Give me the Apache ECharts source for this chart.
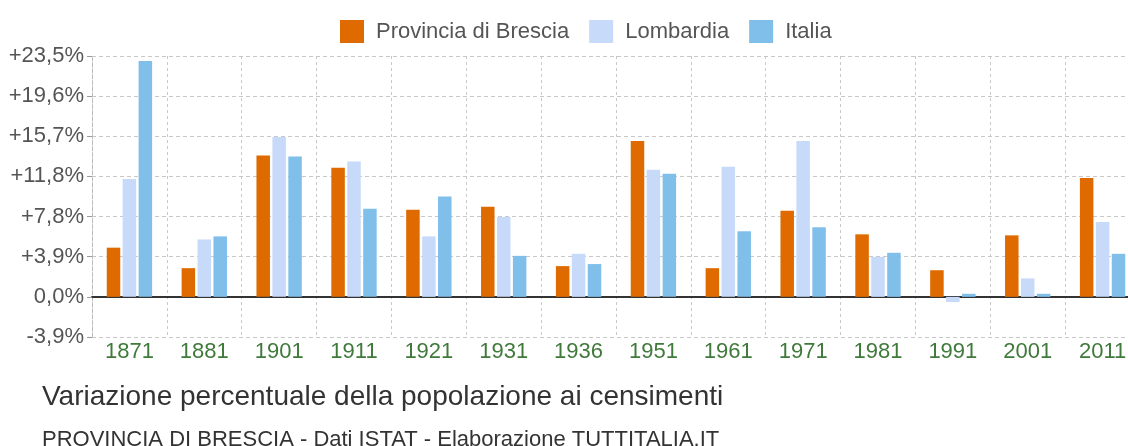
<!DOCTYPE html>
<html>
<head>
<meta charset="utf-8">
<script src="https://cdn.jsdelivr.net/npm/echarts@6/dist/echarts.min.js"></script>
<style>
html,body{margin:0;padding:0;background:#fff;}
#chart{width:1128px;height:446px;}
</style>
</head>
<body>
<div id="chart"></div>
<script>
const categories = ['1871','1881','1901','1911','1921','1931','1936','1951','1961','1971','1981','1991','2001','2011'];
const brescia   = [4.8, 2.8, 13.8, 12.6, 8.5, 8.8, 3.0, 15.2, 2.8, 8.4, 6.1, 2.6, 6.0, 11.6];
const lombardia = [11.5, 5.6, 15.6, 13.2, 5.9, 7.8, 4.2, 12.4, 12.7, 15.2, 3.9, -0.5, 1.8, 7.3];
const italia    = [23.0, 5.9, 13.7, 8.6, 9.8, 4.0, 3.2, 12.0, 6.4, 6.8, 4.3, 0.3, 0.3, 4.2];
const seriesNames = ['Provincia di Brescia', 'Lombardia', 'Italia'];
const colors = ['#DF6B00', '#C7DAFA', '#80BFEA'];
const yStep = 23.5 / 6;
const FONT = 'Liberation Sans, Arial, sans-serif';

const chart = echarts.init(document.getElementById('chart'));
const fmt = v => {
  const r = Math.round(v * 10) / 10;
  const s = Math.abs(r).toFixed(1).replace('.', ',');
  return (r > 0 ? '+' : (r < 0 ? '-' : '')) + s + '%';
};
const mk = (name, data, color) => ({
  name, type: 'bar', data,
  barWidth: 13.5, barGap: '18%',
  itemStyle: { color: color },
  emphasis: { disabled: true }
});
chart.setOption({
  animation: false,
  backgroundColor: '#ffffff',
  textStyle: { fontFamily: FONT },
  legend: {
    top: 15, left: 335,
    itemWidth: 24, itemHeight: 23, itemGap: 20,
    textStyle: { color: '#555', fontSize: 22, fontFamily: FONT, padding: [0, 0, 0, 7] },
    data: seriesNames.map(n => ({ name: n, icon: 'rect' }))
  },
  title: [
    { text: 'Variazione percentuale della popolazione ai censimenti', left: 37, top: 378,
      textStyle: { color: '#333', fontSize: 28, fontWeight: 'normal', fontFamily: FONT } },
    { text: 'PROVINCIA DI BRESCIA - Dati ISTAT - Elaborazione TUTTITALIA.IT', left: 37, top: 424,
      textStyle: { color: '#333', fontSize: 22, fontWeight: 'normal', fontFamily: FONT } }
  ],
  grid: { left: 92, width: 1048, top: 56, bottom: 109, containLabel: false, outerBoundsMode: 'none' },
  xAxis: {
    type: 'category', data: categories,
    axisLine: { onZero: true, lineStyle: { color: '#333', width: 2 } },
    axisTick: { show: false },
    axisLabel: { color: '#3F7A3A', fontSize: 22, margin: 4, verticalAlign: 'top', interval: 0 },
    splitLine: { show: true, interval: 0, lineStyle: { color: '#c8c8c8', type: [3, 3], width: 1 } },
    position: 'bottom'
  },
  yAxis: {
    type: 'value', min: -yStep, max: 23.5, interval: yStep,
    axisLine: { show: true, lineStyle: { color: '#bbb', type: [3, 3] } },
    axisTick: { show: true, length: 5, lineStyle: { color: '#999' } },
    axisLabel: { color: '#555', fontSize: 22, margin: 8, formatter: fmt },
    splitLine: { show: true, lineStyle: { color: '#c8c8c8', type: [4, 3], width: 1 } }
  },
  series: [
    mk(seriesNames[0], brescia, colors[0]),
    mk(seriesNames[1], lombardia, colors[1]),
    mk(seriesNames[2], italia, colors[2])
  ]
});
</script>
</body>
</html>
